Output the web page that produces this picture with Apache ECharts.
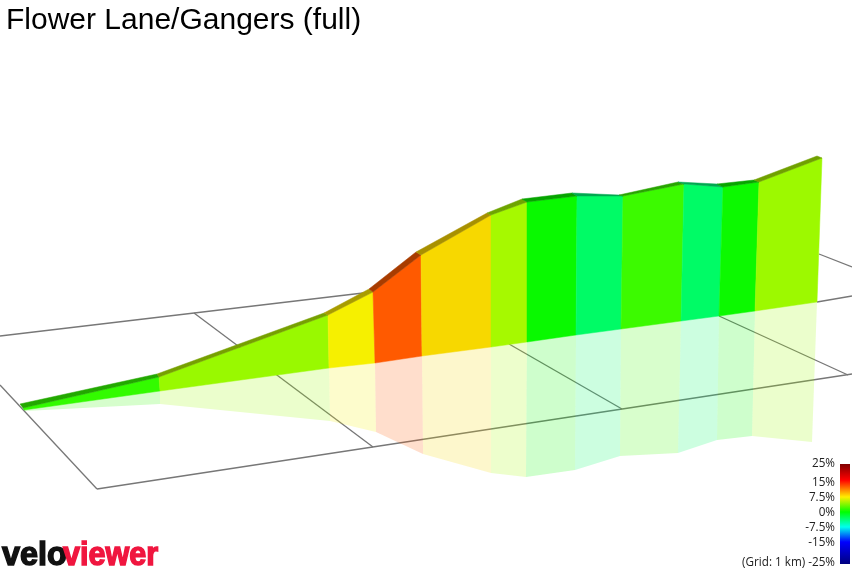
<!DOCTYPE html>
<html>
<head>
<meta charset="utf-8">
<style>html,body{margin:0;padding:0;background:#fff}#c{width:852px;height:571px}</style>
<script src="https://cdn.jsdelivr.net/npm/echarts@6/dist/echarts.min.js"></script>
</head>
<body>
<div id="c"></div>
<script>
// Values, in the picture-plane units of the two hidden axes.
var roadBackX  = [20,157,324,369,416,487,522,572,619,678,717,754,817];
var roadBackY  = [404,374,313,289,252,213,199,193,195,182,184,180,156];
var wallTopX   = [23,159,328,373,421,491,527,577,623,684,723,759,822];
var wallTopY   = [408,377,315,292,255,215,202,196,196,184,187,182,158];
var wallBaseX  = [24,160,329,375,422,491,527,576,621,681,719,755,817];
var wallBaseY  = [410,391,368,363,356,347,342,335,329,321,316,311,302];
var shadowX    = [25,160,330,376,423,491,526,575,620,678,717,752,812];
var shadowY    = [411,404,421,432,454,473,477,470,456,453,440,436,442];
var segmentColors = ['#33fb00','#99f900','#f6f000','#ff5a00','#f7d800','#a6f900','#09f900','#00fb66','#3cfa00','#00fb66','#0cf900','#9df900'];
var roadColors    = ['#22a800','#76a000','#a89c00','#a83c00','#a89000','#6ea400','#06a400','#00a850','#28a400','#00a850','#08a400','#70a000'];
var gridLinesX = [[0,363],[0,97],[97,852],[194,373],[509,622],[719,848],[819,852],[817,852]];
var gridLinesY = [[336,293],[385,489],[489,374],[313,447],[344,409],[316,375],[254,267],[302,296]];
var legendLabels  = ['25%','15%','7.5%','0%','-7.5%','-15%','(Grid: 1 km) -25%'];
var legendLabelY  = [464,483,498,513,528,543,563];
var gradeStops    = [[0,'#7f0000'],[0.16,'#ff0000'],[0.33,'#ffee00'],[0.48,'#00ff00'],[0.63,'#00ffee'],[0.78,'#0000ff'],[1,'#00007f']];

var indices = segmentColors.map(function(_, i){ return [i]; });

function quad(api, ax, ay, bx, by, i){
  return [
    api.coord([ax[i], ay[i]]), api.coord([ax[i+1], ay[i+1]]),
    api.coord([bx[i+1], by[i+1]]), api.coord([bx[i], by[i]])
  ];
}
function polySeries(name, ax, ay, bx, by, colors, opacity, edge){
  return {
    type:'custom', name:name, coordinateSystem:'cartesian2d', clip:false, silent:true,
    encode:{x:0}, data:indices, animation:false,
    renderItem:function(p, api){
      var i = api.value(0);
      return {type:'polygon', shape:{points:quad(api, ax, ay, bx, by, i)},
        style:{fill:colors[i], opacity:opacity, stroke:edge?colors[i]:null, lineWidth:edge?0.5:0}};
    }
  };
}

var chart = echarts.init(document.getElementById('c'), null, {renderer:'canvas'});
chart.setOption({
  animation:false,
  backgroundColor:'#ffffff',
  tooltip:{show:false},
  title:{text:'Flower Lane/Gangers (full)', left:1, top:1,
    textStyle:{fontFamily:'Liberation Sans', fontSize:30, fontWeight:'normal', color:'#000'}},
  grid:{left:0, right:0, top:0, bottom:0},
  xAxis:{type:'value', min:0, max:852, show:false},
  yAxis:{type:'value', min:0, max:571, inverse:true, show:false},
  series:[
    {type:'custom', name:'grid', clip:false, silent:true, data:gridLinesX.map(function(_,i){return [i];}),
      encode:{x:0}, animation:false,
      renderItem:function(p, api){
        var i = api.value(0);
        return {type:'polyline', shape:{points:[
          api.coord([gridLinesX[i][0], gridLinesY[i][0]]),
          api.coord([gridLinesX[i][1], gridLinesY[i][1]])]},
          style:{stroke:'#777777', lineWidth:1.3, fill:null}};
      }},
    polySeries('wall', wallTopX, wallTopY, wallBaseX, wallBaseY, segmentColors, 1, true),
    polySeries('reflection', wallBaseX, wallBaseY, shadowX, shadowY, segmentColors, 0.2, false),
    polySeries('road', roadBackX, roadBackY, wallTopX, wallTopY, roadColors, 1, true),
    {type:'custom', name:'scale', clip:false, silent:true, data:[[0]], encode:{x:0}, animation:false,
      renderItem:function(p, api){
        var a = api.coord([840,464]), b = api.coord([850,564]);
        return {type:'rect', shape:{x:a[0], y:a[1], width:b[0]-a[0], height:b[1]-a[1]},
          style:{fill:new echarts.graphic.LinearGradient(0,0,0,1,gradeStops.map(function(s){return {offset:s[0],color:s[1]};}))}};
      }},
    {type:'custom', name:'scaleLabels', clip:false, silent:true, data:legendLabels.map(function(_,i){return [i];}),
      encode:{x:0}, animation:false,
      renderItem:function(p, api){
        var i = api.value(0), c = api.coord([835, legendLabelY[i]]);
        return {type:'text', x:c[0], y:c[1], style:{text:legendLabels[i], align:'right', verticalAlign:'middle',
          font:'11.7px "Open Sans"', fill:'#222'}};
      }}
  ],
  graphic:[
    {type:'text', x:2, y:572, scaleX:0.9, scaleY:0.9, style:{text:'velo', verticalAlign:'bottom',
      font:'bold 36px "Liberation Sans"', fill:'#111', stroke:'#111', lineWidth:1.6}},
    {type:'text', x:63, y:572, scaleX:0.85, scaleY:0.9, style:{text:'viewer', verticalAlign:'bottom',
      font:'bold 36px "Liberation Sans"', fill:'#f0163f', stroke:'#f0163f', lineWidth:1.6}}
  ]
});
</script>
</body>
</html>
